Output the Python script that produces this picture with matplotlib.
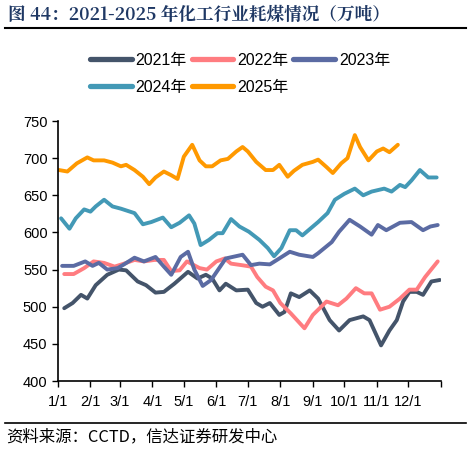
import numpy as np
import matplotlib
matplotlib.use("Agg")
import matplotlib.pyplot as plt
from matplotlib.lines import Line2D

plt.rcParams["font.family"] = ["Liberation Sans", "Noto Sans CJK SC"]

# day of year (0 = Jan 1) and value
d2021 = [6, 14, 22, 28, 36, 47, 58, 65, 76, 84, 93, 101, 111, 124, 133, 141, 147, 154, 160,
         170, 181, 189, 195, 202, 211, 216, 222, 230, 240, 248, 259, 268, 278, 291, 297, 308,
         316, 323, 329, 335, 342, 348, 356, 364]
v2021 = [498, 505, 516, 511, 529, 543, 550, 549, 534, 529, 519, 520, 531, 547, 538, 543, 538,
         522, 531, 522, 523, 505, 500, 505, 489, 493, 518, 513, 522, 511, 482, 468, 482, 487,
         482, 448, 468, 482, 507, 520, 520, 516, 534, 536]

d2022 = [6, 15, 25, 34, 44, 54, 63, 73, 82, 92, 101, 108, 116, 123, 135, 142, 151, 159, 165,
         175, 184, 190, 198, 205, 212, 222, 235, 243, 256, 267, 275, 284, 292, 299, 307, 316,
         326, 335, 342, 350, 362]
v2022 = [544, 544, 552, 561, 559, 554, 558, 563, 561, 563, 563, 548, 549, 561, 552, 550, 561,
         565, 558, 556, 554, 540, 527, 522, 505, 491, 471, 489, 507, 502, 511, 525, 518, 518,
         496, 500, 511, 523, 523, 540, 561]

d2023 = [4, 15, 26, 33, 39, 47, 57, 63, 73, 82, 93, 101, 108, 117, 124, 130, 138, 146, 160,
         176, 184, 192, 202, 211, 221, 230, 243, 248, 261, 268, 278, 288, 299, 305, 313, 326,
         337, 348, 355, 362]
v2023 = [555, 555, 561, 555, 559, 550, 552, 557, 566, 561, 567, 554, 543, 567, 574, 550, 528,
         536, 565, 570, 556, 558, 557, 565, 574, 570, 567, 572, 587, 601, 617, 608, 597, 610,
         603, 613, 614, 603, 608, 610]

d2024 = [3, 11, 17, 25, 31, 36, 44, 52, 60, 73, 81, 89, 100, 108, 116, 125, 130, 136, 144, 152,
         157, 165, 173, 182, 192, 200, 206, 213, 221, 227, 233, 243, 248, 257, 264, 273, 283,
         291, 299, 311, 318, 326, 331, 337, 345, 353, 361]
v2024 = [619, 605, 619, 631, 628, 635, 644, 635, 632, 626, 611, 614, 620, 607, 613, 623, 612,
         583, 590, 599, 599, 618, 608, 601, 590, 579, 568, 579, 603, 603, 596, 608, 614, 626,
         644, 652, 659, 650, 655, 659, 655, 664, 661, 670, 684, 674, 674]

d2025 = [1, 9, 18, 28, 34, 44, 52, 60, 65, 73, 81, 87, 93, 101, 108, 114, 120, 128, 135, 141,
         147, 155, 162, 170, 176, 181, 189, 198, 205, 211, 219, 225, 233, 243, 248, 256, 262,
         270, 276, 283, 288, 296, 304, 310, 316, 324]
v2025 = [684, 682, 693, 701, 697, 697, 694, 689, 691, 684, 675, 665, 674, 682, 677, 672, 702,
         718, 697, 689, 689, 697, 699, 709, 715, 709, 695, 684, 684, 691, 675, 683, 691, 695,
         698, 688, 680, 693, 700, 731, 715, 697, 709, 713, 708, 718]

month_days = [0, 31, 59, 90, 120, 151, 181, 212, 243, 273, 304, 334]
month_labels = ["1/1", "2/1", "3/1", "4/1", "5/1", "6/1", "7/1", "8/1", "9/1", "10/1", "11/1", "12/1"]

series = [
    ("2021年", d2021, v2021, "#44546A"),
    ("2022年", d2022, v2022, "#FF7C80"),
    ("2023年", d2023, v2023, "#5B6BA3"),
    ("2024年", d2024, v2024, "#4399B6"),
    ("2025年", d2025, v2025, "#FF9900"),
]

fig = plt.figure(figsize=(4.71, 4.49), dpi=100)
ax = fig.add_axes([0.123, 0.1514, 0.813, 0.5791])

for name, d, v, c in series:
    ax.plot(d, v, color=c, lw=2.8, solid_joinstyle="round", solid_capstyle="round", label=name)

ax.set_xlim(0, 365)
ax.set_ylim(400, 750)
ax.set_yticks(np.arange(400, 751, 50))
ax.set_xticks(month_days + [365])
ax.set_xticklabels(month_labels + [""])
ax.tick_params(axis="both", direction="out", length=4, width=1, labelsize=10.5, colors="black")
ax.tick_params(axis="x", pad=6)
for s in ["top", "right"]:
    ax.spines[s].set_visible(False)
for s in ["left", "bottom"]:
    ax.spines[s].set_linewidth(1.2)

# legend fills column by column, so reorder to get rows 2021-2023 / 2024-2025
order = [0, 3, 1, 4, 2]
handles = [Line2D([0], [0], color=series[i][3], lw=3.8, solid_capstyle="round") for i in order]
labels = [series[i][0] for i in order]
fig.legend(handles, labels, loc="upper center", bbox_to_anchor=(0.51, 0.915), ncol=3,
           frameon=False, fontsize=11.5, handlelength=2.6, handletextpad=0.25,
           columnspacing=0.3, labelspacing=0.75)

fig.text(0.017, 0.966, "图 44：2021-2025 年化工行业耗煤情况（万吨）", fontsize=12.7,
         fontweight="bold", color="#1F3864", va="center", ha="left",
         family=["Noto Serif CJK SC", "Noto Sans CJK SC"])
fig.add_artist(Line2D([0.011, 0.989], [0.937, 0.937], color="black", lw=1.5))
fig.add_artist(Line2D([0.011, 0.989], [0.058, 0.058], color="black", lw=1.2))
fig.text(0.013, 0.027, "资料来源：CCTD，信达证券研发中心", fontsize=11.8, style="italic",
         va="center", ha="left", family=["Noto Sans CJK SC"])

fig.savefig("out.png", dpi=100)
